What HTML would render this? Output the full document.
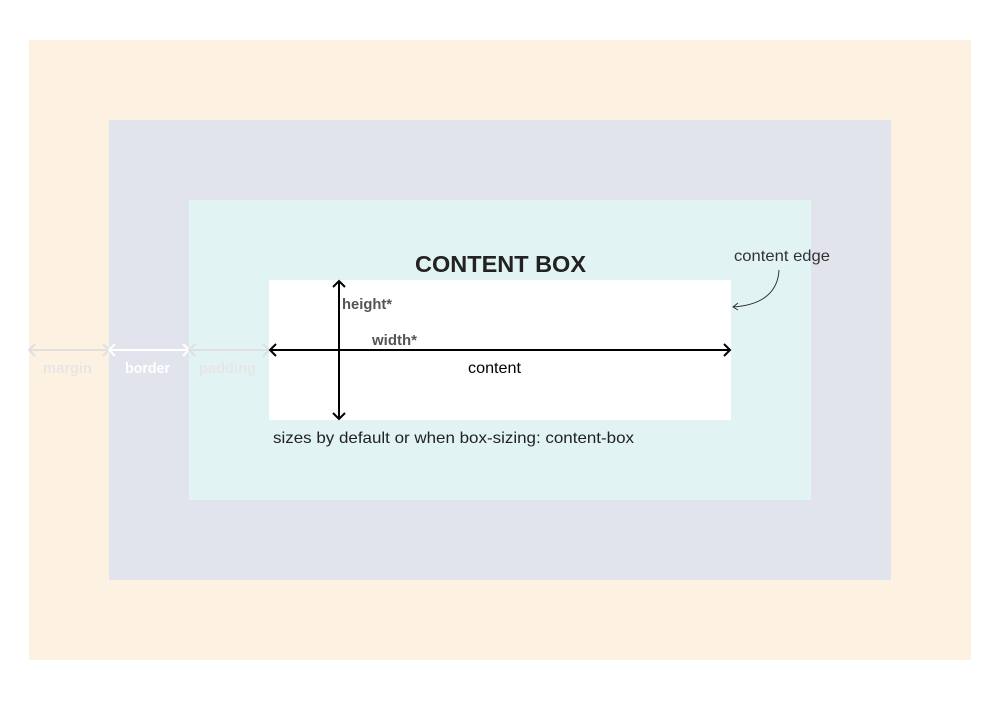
<!DOCTYPE html>
<html><head><style>
body{margin:0;width:1000px;height:700px;background:#fff;overflow:hidden;font-family:"Liberation Sans",sans-serif}
</style></head><body>
<svg width="1000" height="700" xmlns="http://www.w3.org/2000/svg" font-family="Liberation Sans, sans-serif">
<rect x="29" y="40" width="942" height="620" fill="#fdf2e1"/>
<rect x="109" y="120" width="782" height="460" fill="#e1e4ec"/>
<rect x="189" y="200" width="622" height="300" fill="#e2f3f3"/>
<rect x="269" y="280" width="462" height="140" fill="#fff"/>
<g fill="none" stroke-width="2">
<path d="M30 350H108M35 344l-6 6 6 6M103 344l6 6-6 6" stroke="#e0e0e0"/>
<path d="M110 350H188M115 344l-6 6 6 6M183 344l6 6-6 6" stroke="#fff"/>
<path d="M190 350H268M195 344l-6 6 6 6M263 344l6 6-6 6" stroke="#e0e0e0"/>
<path d="M270 350H730M276 344l-6 6 6 6M724 344l6 6-6 6" stroke="#000"/>
<path d="M339 281V419M333 287l6-6 6 6M333 413l6 6 6-6" stroke="#000"/>
</g>
<path d="M779 270C778 290 765 305 733 307M738 303l-5 4 5 3" fill="none" stroke="#333" stroke-width="1"/>
<text x="415" y="272" font-size="23" font-weight="bold" fill="#222" textLength="171" lengthAdjust="spacingAndGlyphs">CONTENT BOX</text>
<text x="734" y="261" font-size="16" fill="#333" textLength="96" lengthAdjust="spacingAndGlyphs">content edge</text>
<text x="342" y="309" font-size="15" font-weight="bold" fill="#555" textLength="50" lengthAdjust="spacingAndGlyphs">height*</text>
<text x="372" y="345" font-size="15" font-weight="bold" fill="#555" textLength="45" lengthAdjust="spacingAndGlyphs">width*</text>
<text x="468" y="373" font-size="16" fill="#000" textLength="53" lengthAdjust="spacingAndGlyphs">content</text>
<text x="273" y="443" font-size="16" fill="#222" textLength="361" lengthAdjust="spacingAndGlyphs">sizes by default or when box-sizing: content-box</text>
<text x="43" y="373" font-size="15" font-weight="bold" fill="#e6e6e6" textLength="49" lengthAdjust="spacingAndGlyphs">margin</text>
<text x="125" y="373" font-size="15" font-weight="bold" fill="#fff" textLength="45" lengthAdjust="spacingAndGlyphs">border</text>
<text x="199" y="373" font-size="15" font-weight="bold" fill="#e6e6e6" textLength="57" lengthAdjust="spacingAndGlyphs">padding</text>
</svg>
</body></html>
